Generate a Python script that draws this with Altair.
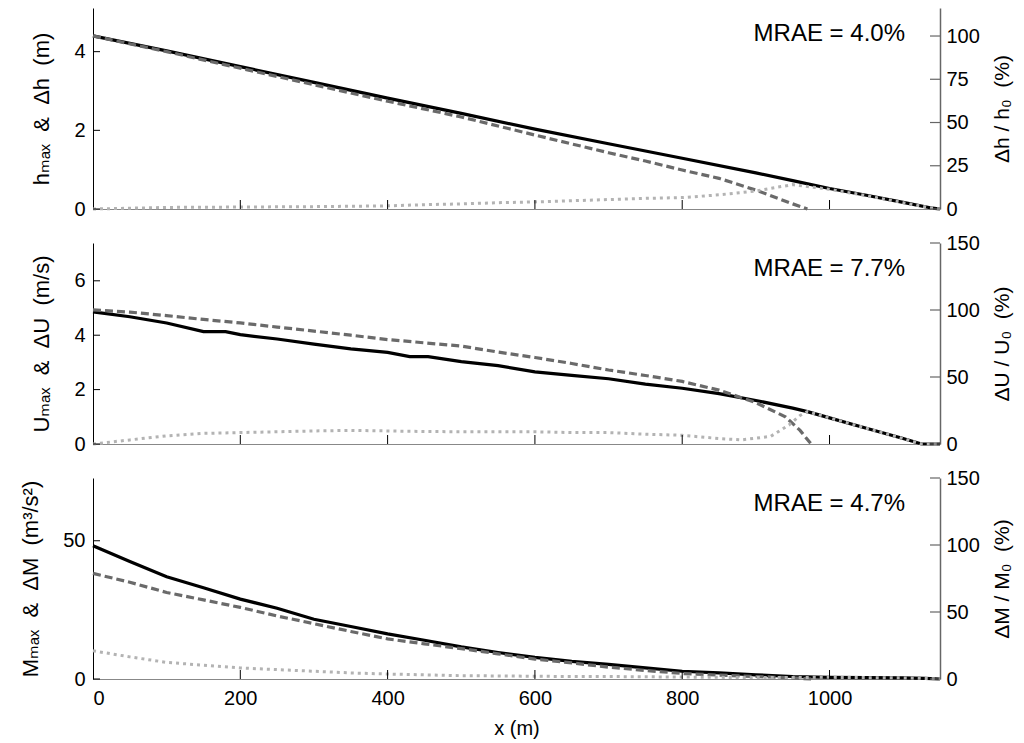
import altair as alt
import pandas as pd

FONT = "Liberation Sans, Arial, DejaVu Sans"
W, H = 847, 201
X_DOMAIN = [0, 1150]
X_TICKS = [200, 400, 600, 800, 1000]
X_LABELS = [0, 200, 400, 600, 800, 1000]
SP = "\u00a0\u00a0"

# ---------------- Panel 1: water depth h ----------------
h_obs_x = [0, 100, 200, 300, 400, 500, 600, 700, 800, 900, 950, 1000, 1050, 1100, 1140, 1150]
h_obs_y = [4.40, 4.02, 3.62, 3.22, 2.82, 2.43, 2.03, 1.66, 1.29, 0.92, 0.72, 0.52, 0.35, 0.17, 0.02, 0.0]
h_est_x = [0, 100, 200, 300, 400, 500, 600, 700, 750, 800, 850, 900, 950, 970]
h_est_y = [4.40, 4.00, 3.58, 3.16, 2.74, 2.34, 1.88, 1.43, 1.22, 0.99, 0.78, 0.48, 0.13, 0.0]
h_err_x = [0, 100, 200, 300, 400, 450, 500, 550, 600, 650, 700, 750, 800, 850, 900, 950, 1000, 1050, 1100, 1140, 1150]
h_err_y = [0.0, 0.04, 0.05, 0.06, 0.08, 0.11, 0.13, 0.16, 0.18, 0.21, 0.24, 0.27, 0.29, 0.36, 0.46, 0.62, 0.50, 0.34, 0.16, 0.02, 0.0]

# ---------------- Panel 2: velocity U ----------------
u_obs_x = [0, 50, 100, 150, 180, 200, 250, 300, 350, 400, 430, 455, 500, 550, 600, 650, 700, 750, 800,
           850, 900, 950, 970, 1000, 1050, 1100, 1125, 1150]
u_obs_y = [4.86, 4.68, 4.45, 4.13, 4.13, 4.02, 3.86, 3.67, 3.50, 3.37, 3.21, 3.21, 3.03, 2.88, 2.65, 2.52,
           2.40, 2.20, 2.05, 1.85, 1.60, 1.32, 1.19, 0.96, 0.58, 0.20, 0.0, 0.0]
u_est_x = [0, 50, 100, 150, 200, 250, 300, 350, 400, 450, 500, 550, 600, 650, 700, 750, 800, 850, 900, 940, 960, 975]
u_est_y = [4.93, 4.85, 4.72, 4.58, 4.45, 4.30, 4.15, 4.00, 3.84, 3.72, 3.60, 3.38, 3.18, 2.96, 2.72, 2.52,
           2.30, 1.98, 1.52, 1.00, 0.50, 0.0]
u_err_x = [0, 50, 100, 150, 200, 250, 300, 350, 400, 450, 500, 550, 600, 650, 700, 750, 800, 850, 880,
           920, 945, 960, 970, 1000, 1050, 1100, 1125, 1150]
u_err_y = [0.0, 0.15, 0.30, 0.39, 0.42, 0.45, 0.48, 0.50, 0.48, 0.46, 0.45, 0.45, 0.45, 0.42, 0.42, 0.36,
           0.32, 0.20, 0.15, 0.28, 0.70, 1.05, 1.19, 0.96, 0.58, 0.20, 0.0, 0.0]

# ---------------- Panel 3: momentum flux M ----------------
m_obs_x = [0, 50, 100, 150, 200, 250, 300, 350, 400, 450, 500, 550, 600, 650, 700, 750, 800, 850, 900,
           950, 1000, 1050, 1100, 1130, 1150]
m_obs_y = [48.2, 42.5, 37.0, 33.0, 28.9, 25.6, 21.6, 19.0, 16.3, 14.0, 11.6, 9.6, 7.8, 6.4, 5.3, 4.0,
           2.8, 2.2, 1.5, 0.9, 0.6, 0.5, 0.4, 0.2, 0.0]
m_est_x = [0, 50, 100, 150, 200, 250, 300, 350, 400, 450, 500, 550, 600, 650, 700, 750, 800, 850, 900, 950, 975]
m_est_y = [38.2, 35.0, 31.3, 28.6, 25.9, 22.8, 20.0, 17.2, 14.5, 12.7, 11.0, 9.1, 7.2, 5.8, 4.3, 3.1,
           2.0, 1.4, 0.9, 0.4, 0.0]
m_err_x = [0, 50, 100, 150, 200, 250, 300, 350, 400, 450, 500, 550, 600, 650, 700, 750, 800, 850, 900,
           950, 975, 1000, 1050, 1100, 1130, 1150]
m_err_y = [10.2, 8.0, 6.0, 5.0, 4.0, 3.4, 2.8, 2.2, 1.8, 1.5, 1.2, 1.1, 1.0, 0.9, 0.9, 0.8, 0.7, 0.6,
           0.5, 0.5, 0.6, 0.6, 0.5, 0.4, 0.2, 0.0]

# axis ranges and ticks
Y_MAX = [5.11, 7.39, 72.7]
P_MAX = [116.2, 150, 150]
LEFT_TICKS = [[0, 2, 4], [0, 2, 4, 6], [0, 50]]
RIGHT_TICKS = [[0, 25, 50, 75, 100], [0, 50, 100, 150], [0, 50, 100, 150]]
LEFT_TITLES = ["hₘₐₓ" + SP + "&" + SP + "Δh" + SP + "(m)",
               "Uₘₐₓ" + SP + "&" + SP + "ΔU" + SP + "(m/s)",
               "Mₘₐₓ" + SP + "&" + SP + "ΔM" + SP + "(m³/s²)"]
RIGHT_TITLES = ["Δh / h₀" + SP + "(%)", "ΔU / U₀" + SP + "(%)", "ΔM / M₀" + SP + "(%)"]
MRAE = ["MRAE = 4.0%", "MRAE = 7.7%", "MRAE = 4.7%"]


def frame(x, y):
    return pd.DataFrame({"x": x, "y": y})


def panel(obs, est, err, i, bottom):
    xscale = alt.Scale(domain=X_DOMAIN, nice=False, zero=False)
    yscale = alt.Scale(domain=[0, Y_MAX[i]], nice=False, zero=False)
    pscale = alt.Scale(domain=[0, P_MAX[i]], nice=False, zero=False)
    if bottom:
        xaxis = alt.Axis(values=X_LABELS, ticks=False, labels=True, title="x (m)", format="d",
                         labelFontSize=20, labelPadding=9, titleFontSize=20, titlePadding=10,
                         domainColor="#888888", domainWidth=1, grid=False)
    else:
        xaxis = alt.Axis(values=X_LABELS, ticks=False, labels=False, title=None,
                         domainColor="#888888", domainWidth=1, grid=False)
    yaxis = alt.Axis(values=LEFT_TICKS[i], ticks=False, labelPadding=8, labelFontSize=20,
                     title=LEFT_TITLES[i], titleFontSize=22, titlePadding=20,
                     domainColor="black", domainWidth=1, grid=False, orient="left")
    raxis = alt.Axis(values=RIGHT_TICKS[i], ticks=False, labelPadding=6, labelFontSize=20,
                     title=RIGHT_TITLES[i], titleFontSize=21, titlePadding=12, titleAngle=270,
                     titleBaseline="top", domainColor="#666666", domainWidth=1.5, grid=False,
                     orient="right")
    X = alt.X("x:Q", scale=xscale, axis=xaxis)
    Y = alt.Y("y:Q", scale=yscale, axis=yaxis)

    l_obs = alt.Chart(frame(*obs)).mark_line(color="black", strokeWidth=3.2).encode(x=X, y=Y)
    l_est = alt.Chart(frame(*est)).mark_line(color="#6a6a6a", strokeWidth=3.2,
                                             strokeDash=[8, 4]).encode(x=X, y=Y)
    l_err = alt.Chart(frame(*err)).mark_line(color="#b3b3b3", strokeWidth=3,
                                             strokeDash=[3, 4]).encode(x=X, y=Y)
    lt = alt.Chart(pd.DataFrame({"y": LEFT_TICKS[i]})).mark_rule(color="black", strokeWidth=1).encode(
        y=Y, x=alt.value(0), x2=alt.value(7))
    xt = alt.Chart(pd.DataFrame({"x": X_TICKS})).mark_rule(color="black", strokeWidth=1).encode(
        x=X, y=alt.value(H), y2=alt.value(H - 9))
    txt = alt.Chart(pd.DataFrame({"t": [MRAE[i]]})).mark_text(
        align="right", baseline="middle", fontSize=24, font=FONT, color="black").encode(
        x=alt.value(812), y=alt.value(26), text="t:N")
    rt = alt.Chart(pd.DataFrame({"p": RIGHT_TICKS[i]})).mark_rule(color="#666666", strokeWidth=1.2).encode(
        y=alt.Y("p:Q", scale=pscale, axis=raxis), x=alt.value(W - 10), x2=alt.value(W))

    left = alt.layer(l_obs, l_est, l_err, lt, xt, txt)
    return alt.layer(left, rt).resolve_scale(y="independent").properties(width=W, height=H)


p1 = panel((h_obs_x, h_obs_y), (h_est_x, h_est_y), (h_err_x, h_err_y), 0, False)
p2 = panel((u_obs_x, u_obs_y), (u_est_x, u_est_y), (u_err_x, u_err_y), 1, False)
p3 = panel((m_obs_x, m_obs_y), (m_est_x, m_est_y), (m_err_x, m_err_y), 2, True)

chart = alt.vconcat(p1, p2, p3, spacing=34, bounds="flush").properties(
    padding={"left": 19, "top": 8, "right": 5, "bottom": 5},
    background="white",
).configure_view(strokeWidth=0).configure_axis(
    labelFont=FONT, titleFont=FONT, labelColor="black", titleColor="black",
    titleFontWeight="normal", grid=False
)

chart.save("out.html", embed_options={"renderer": "svg", "actions": False})
